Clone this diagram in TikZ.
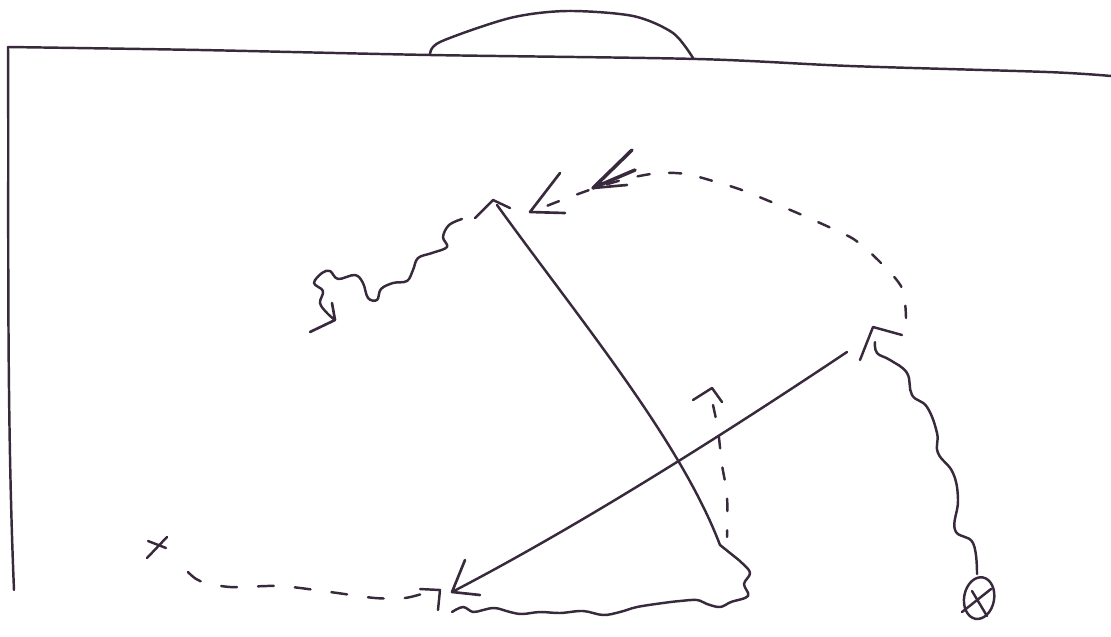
\documentclass[tikz,border=0pt]{standalone}
\definecolor{ink}{RGB}{56,42,60}
\begin{document}
\begin{tikzpicture}[x=0.02cm,y=-0.02cm,
  pen/.style={draw=ink,line width=1.4pt,line cap=round,line join=round},
  dashpen/.style={pen,dash pattern=on 7pt off 11pt},
  headpen/.style={pen,line width=1.5pt}]
\useasboundingbox (0,0) rectangle (1111,636);
% ---------- field ----------
\coordinate (cornerTL) at (8,47);
\coordinate (leftEnd) at (14,590);
\coordinate (rightEnd) at (1111,76);
\coordinate (goalL) at (430,55);
\coordinate (goalR) at (693,58);
\draw[pen] (leftEnd) .. controls (6,400) and (9,200) .. (cornerTL);
\draw[pen] plot[smooth] coordinates {(8,47) (200,50) (430,55) (697,59) (850,66) (1047,72) (1111,76)};
\draw[pen] plot[smooth] coordinates {(430,55) (440,42) (510,18) (567,11) (633,16) (673,33) (693,58)};
% ---------- key points ----------
\coordinate (apex) at (497,205);
\coordinate (runEnd) at (720,545);
\coordinate (passStart) at (847,352);
\coordinate (passEnd) at (452,592);
% ---------- left dribble from apex ----------
\draw[pen] (475,218) -- (493,200) -- (510,208);
\draw[pen] plot[smooth,tension=0.6] coordinates {(462,219) (449,225) (443,237) (447,247) (432,253) (418,258) (413,270) (407,281) (393,283) (381,289) (377,300) (368,298) (363,283) (355,275) (338,279) (330,271) (322,273) (314,283) (323,291) (320,303) (327,313) (335,320)};
\draw[headpen] (332,303) -- (335,320) -- (310,332);
% ---------- run from apex down ----------
\draw[pen] (apex) .. controls (580,320) and (680,440) .. (runEnd);
% ---------- long pass ----------
\draw[pen] (passStart) .. controls (760,410) and (600,515) .. (passEnd);
\draw[headpen] (465,560) -- (passEnd) -- (480,595);
% ---------- bottom dribble ----------
\draw[pen] plot[smooth,tension=0.6] coordinates {(runEnd) (730,553) (742,563) (750,573) (744,584) (748,596) (731,602) (720,607) (707,604) (697,600) (680,601) (663,603) (637,607) (620,612) (603,615) (583,611) (560,613) (540,612) (522,614) (510,612) (495,608) (483,610) (473,612) (463,607) (452,612)};
% ---------- vertical dashed run ----------
\draw[dashpen] plot[smooth] coordinates {(713,405) (718,430) (722,465) (727,495) (727,537)};
\draw[pen] (693,400) -- (712,388) -- (722,402);
% ---------- bottom-left dashed run ----------
\draw[pen] (147,558) -- (167,537);
\draw[pen] (148,541) -- (166,548);
\draw[dashpen,dash pattern=on 9pt off 12pt] plot[smooth] coordinates {(188,572) (200,581) (230,587) (280,586) (330,592) (375,598) (405,598) (428,592)};
\draw[pen] (420,589) -- (440,590) -- (438,610);
% ---------- right dribble ----------
\coordinate (ballC) at (979,598);
\draw[pen] (860,360) -- (873,327) -- (902,335);
\draw[pen] plot[smooth,tension=0.7] coordinates {(875,342) (877,353) (890,360) (907,373) (912,395) (927,407) (937,433) (938,453) (953,473) (958,500) (955,530) (973,543) (977,574)};
\draw[pen,rotate around={-10:(ballC)}] (ballC) ellipse [x radius=15, y radius=21];
\draw[pen] (962,612) -- (991,589);
\draw[pen] (972,591) -- (987,616);
% ---------- long dashed pass ----------
\draw[dashpen] plot[smooth] coordinates {(906,318) (902,288) (880,262) (855,240) (831,228) (802,215) (769,201) (739,189) (713,181) (686,174) (659,173) (630,178) (598,187) (562,200) (534,211)};
\draw[headpen,line width=2pt] (632,150) -- (593,188) -- (635,170);
\draw[headpen] (593,188) -- (627,185);
\draw[headpen] (560,173) -- (530,212) -- (565,213);
\end{tikzpicture}
\end{document}
